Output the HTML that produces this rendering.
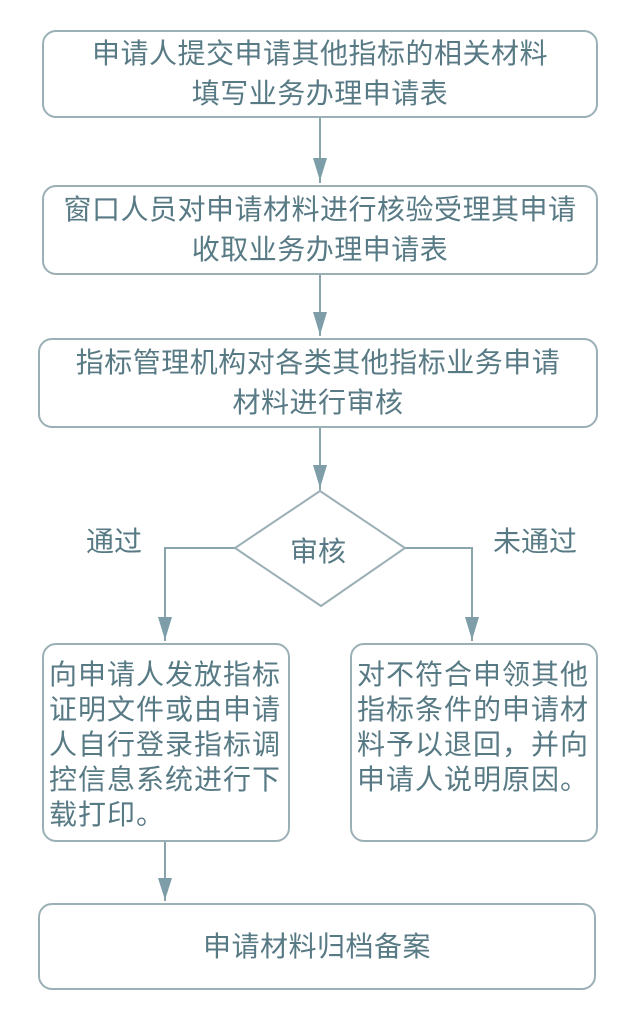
<html><head><style>
body{margin:0;width:640px;height:1014px;background:#fff;position:relative;overflow:hidden;font-family:"Liberation Sans","Noto Sans CJK SC",sans-serif;color:#587a85}
.b{position:absolute;border:2px solid #9bb0b5;border-radius:14px;box-sizing:border-box;font-size:28px;line-height:40px;text-align:center;display:flex;flex-direction:column;justify-content:center;letter-spacing:0.5px}
.l{text-align:left;justify-content:flex-start;padding:12px 0 0 5px;font-size:28px;line-height:35px;letter-spacing:1px}
.t{position:absolute;font-size:28px;line-height:32px}
</style></head><body>
<svg width="640" height="1014" style="position:absolute;left:0;top:0">
<g stroke="#8aa4ab" stroke-width="2" fill="none">
<line x1="320" y1="118" x2="320" y2="183"/>
<path d="M313,158 L327,158 L320,181z" fill="#7d9ea8" stroke="none"/>
<line x1="320" y1="275" x2="320" y2="336"/>
<path d="M313,312 L327,312 L320,335z" fill="#7d9ea8" stroke="none"/>
<line x1="320" y1="428" x2="320" y2="490"/>
<path d="M313,465 L327,465 L320,488z" fill="#7d9ea8" stroke="none"/>
<path d="M320,491 L405,548 L321,606 L235,548z" stroke="#9bb0b5"/>
<path d="M235,548 L165,548 L165,641"/>
<path d="M158,617 L172,617 L165,640z" fill="#7d9ea8" stroke="none"/>
<path d="M405,548 L472,548 L472,641"/>
<path d="M465,617 L479,617 L472,640z" fill="#7d9ea8" stroke="none"/>
<line x1="165" y1="842" x2="165" y2="901"/>
<path d="M158,878 L172,878 L165,900z" fill="#7d9ea8" stroke="none"/>
</g></svg>
<div class="b" style="left:42px;top:30px;width:556px;height:88px">申请人提交申请其他指标的相关材料<br>填写业务办理申请表</div>
<div class="b" style="left:42px;top:185px;width:556px;height:90px">窗口人员对申请材料进行核验受理其申请<br>收取业务办理申请表</div>
<div class="b" style="left:38px;top:338px;width:560px;height:90px">指标管理机构对各类其他指标业务申请<br>材料进行审核</div>
<div class="t" style="left:290px;top:536px">审核</div>
<div class="t" style="left:86px;top:526px">通过</div>
<div class="t" style="left:493px;top:526px">未通过</div>
<div class="b l" style="left:42px;top:643px;width:248px;height:199px">向申请人发放指标<br>证明文件或由申请<br>人自行登录指标调<br>控信息系统进行下<br>载打印。</div>
<div class="b l" style="left:350px;top:643px;width:248px;height:199px">对不符合申领其他<br>指标条件的申请材<br>料予以退回，并向<br>申请人说明原因。</div>
<div class="b" style="left:38px;top:903px;width:558px;height:87px">申请材料归档备案</div>
</body></html>
